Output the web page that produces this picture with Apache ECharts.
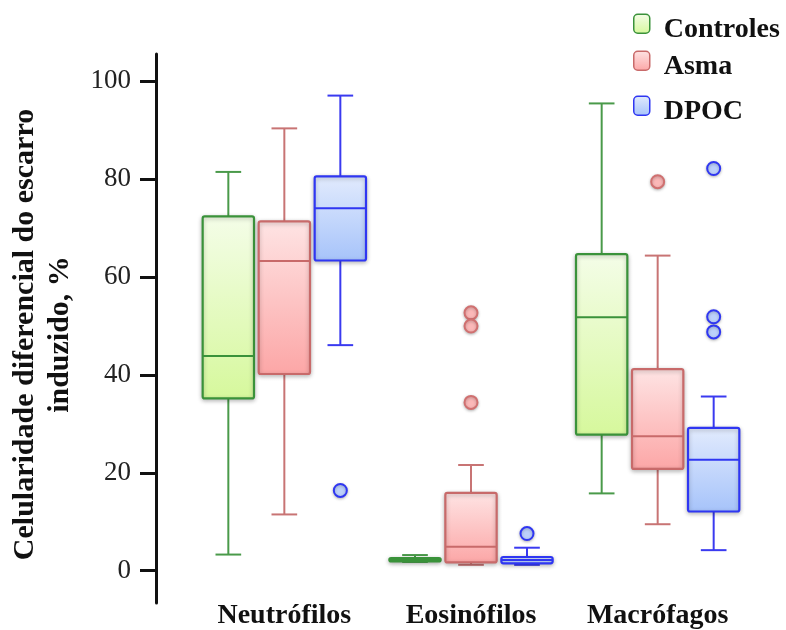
<!DOCTYPE html>
<html>
<head>
<meta charset="utf-8">
<script src="https://cdn.jsdelivr.net/npm/echarts@6/dist/echarts.min.js"></script>
<style>html,body{margin:0;padding:0;background:#fff;}#c{width:786px;height:630px;}</style>
</head>
<body>
<div id="c"></div>
<script>
// ---- data ----
const categories = ['Neutrófilos', 'Eosinófilos', 'Macrófagos'];
const seriesNames = ['Controles', 'Asma', 'DPOC'];
const yTicks = [0, 20, 40, 60, 80, 100];
// each row: [low whisker, Q1, median, Q3, high whisker]
const controlesBox = [[3.3, 35.2, 43.9, 72.4, 81.5], [1.8, 1.9, 2.2, 2.6, 3.2], [15.8, 27.8, 51.8, 64.7, 95.5]];
const asmaBox = [[11.5, 40.2, 63.3, 71.4, 90.4], [1.2, 1.7, 4.9, 15.9, 21.6], [9.5, 20.8, 27.5, 41.2, 64.4]];
const dpocBox = [[46.1, 63.4, 74.1, 80.6, 97.1], [1.2, 1.5, 2.2, 2.8, 4.7], [4.2, 12.1, 22.7, 29.2, 35.6]];
// outliers: [category index, value]
const controlesOut = [];
const asmaOut = [[1, 52.7], [1, 50.0], [1, 34.4], [2, 79.5]];
const dpocOut = [[0, 16.4], [1, 7.6], [2, 82.2], [2, 51.9], [2, 48.8]];

// ---- styles ----
const styles = [
  { top: '#f4fde8', bottom: '#d6f89c', stroke: '#3a923a', whisker: '#4a9a4a', ptFill: '#d6f89c', ptStroke: '#3f963f' },
  { top: '#fee4e4', bottom: '#fca6a6', stroke: '#c86a6a', whisker: '#c87474', ptFill: '#fbb8b8', ptStroke: '#d07070' },
  { top: '#e2ebfd', bottom: '#a6c3fa', stroke: '#2f36f2', whisker: '#3a3af0', ptFill: '#bcd0fb', ptStroke: '#2f36f2' }
];
const SERIF = '"Liberation Serif", "Times New Roman", serif';

function grad(s) {
  return new echarts.graphic.LinearGradient(0, 0, 0, 1, [
    { offset: 0, color: s.top }, { offset: 1, color: s.bottom }
  ]);
}

function boxRenderer(k) {
  const s = styles[k];
  return function (params, api) {
    const band = api.size([1, 0])[0];
    const cx = api.coord([api.value(0), 0])[0] + (k - 1) * band * 0.3;
    const w = band * 0.275;
    const yl = api.coord([0, api.value(1)])[1];
    const y1 = api.coord([0, api.value(2)])[1];
    const ym = api.coord([0, api.value(3)])[1];
    const y3 = api.coord([0, api.value(4)])[1];
    const yh = api.coord([0, api.value(5)])[1];
    const cap = w * 0.25;
    const lineStyle = { stroke: s.whisker, lineWidth: 2 };
    return {
      type: 'group',
      children: [
        { type: 'line', shape: { x1: cx, y1: yh, x2: cx, y2: y3 }, style: lineStyle },
        { type: 'line', shape: { x1: cx, y1: y1, x2: cx, y2: yl }, style: lineStyle },
        { type: 'line', shape: { x1: cx - cap, y1: yh, x2: cx + cap, y2: yh }, style: lineStyle },
        { type: 'line', shape: { x1: cx - cap, y1: yl, x2: cx + cap, y2: yl }, style: lineStyle },
        {
          type: 'rect',
          shape: { x: cx - w / 2, y: y3, width: w, height: Math.max(y1 - y3, 1), r: 2 },
          style: { fill: grad(s), stroke: s.stroke, lineWidth: 2.2, shadowBlur: 4, shadowColor: 'rgba(0,0,0,0.25)', shadowOffsetY: 1.5 }
        },
        { type: 'line', shape: { x1: cx - w / 2, y1: ym, x2: cx + w / 2, y2: ym }, style: { stroke: s.stroke, lineWidth: 2 } }
      ]
    };
  };
}

function outRenderer(k) {
  const s = styles[k];
  return function (params, api) {
    const band = api.size([1, 0])[0];
    const cx = api.coord([api.value(0), 0])[0] + (k - 1) * band * 0.3;
    const cy = api.coord([0, api.value(1)])[1];
    return {
      type: 'circle',
      shape: { cx: cx, cy: cy, r: 6.5 },
      style: { fill: s.ptFill, stroke: s.ptStroke, lineWidth: 2, shadowBlur: 3, shadowColor: 'rgba(0,0,0,0.25)', shadowOffsetY: 1 }
    };
  };
}

const boxSets = [controlesBox, asmaBox, dpocBox];
const outSets = [controlesOut, asmaOut, dpocOut];
const series = [];
seriesNames.forEach(function (name, k) {
  series.push({
    name: name, type: 'custom', renderItem: boxRenderer(k),
    itemStyle: { color: styles[k].bottom, borderColor: styles[k].stroke },
    encode: { x: 0, y: [1, 2, 3, 4, 5] },
    data: boxSets[k].map(function (r, i) { return [i].concat(r); }),
    z: 2
  });
});
seriesNames.forEach(function (name, k) {
  series.push({
    name: name, type: 'custom', renderItem: outRenderer(k),
    itemStyle: { color: styles[k].ptFill },
    encode: { x: 0, y: 1 },
    data: outSets[k],
    z: 3
  });
});

const legendTops = [13.5, 50.5, 95.5];
const legends = seriesNames.map(function (name, k) {
  return {
    left: 633, top: legendTops[k], orient: 'vertical', padding: 0,
    icon: 'roundRect', itemWidth: 16, itemHeight: 19, selectedMode: false,
    formatter: '{t|{name}}',
    textStyle: {
      fontFamily: SERIF, fontWeight: 'bold', fontSize: 28, color: '#111', padding: [0, 0, 0, 9],
      rich: { t: { fontFamily: SERIF, fontWeight: 'bold', fontSize: 28, color: '#111', padding: [12, 0, 0, 0] } }
    },
    data: [{ name: name, itemStyle: { color: grad(styles[k]), borderColor: styles[k].stroke, borderWidth: 1.5 } }]
  };
});

const chart = echarts.init(document.getElementById('c'), null, { renderer: 'canvas' });
chart.setOption({
  animation: false,
  backgroundColor: '#ffffff',
  legend: legends,
  grid: { left: 190, right: 35, top: 54, bottom: 24.3, containLabel: false },
  xAxis: {
    type: 'category', data: categories,
    axisLine: { show: false }, axisTick: { show: false },
    axisLabel: { fontFamily: SERIF, fontWeight: 'bold', fontSize: 28, color: '#111', margin: -1 }
  },
  yAxis: {
    type: 'value', min: -6.6, max: 105.6, offset: 35,
    name: 'Celularidade diferencial do escarro\ninduzido, %',
    nameLocation: 'middle', nameRotate: 90, nameGap: 78,
    nameTextStyle: { fontFamily: SERIF, fontWeight: 'bold', fontSize: 30, lineHeight: 35, color: '#111', padding: [0, 12, 0, 0] },
    axisLine: { show: true, lineStyle: { color: '#111', width: 3 } },
    axisTick: { show: true, length: 16, customValues: yTicks, lineStyle: { color: '#111', width: 3 } },
    axisLabel: { customValues: yTicks, fontFamily: SERIF, fontSize: 27, color: '#222', margin: 25 },
    splitLine: { show: false }
  },
  series: series
});
</script>
</body>
</html>
